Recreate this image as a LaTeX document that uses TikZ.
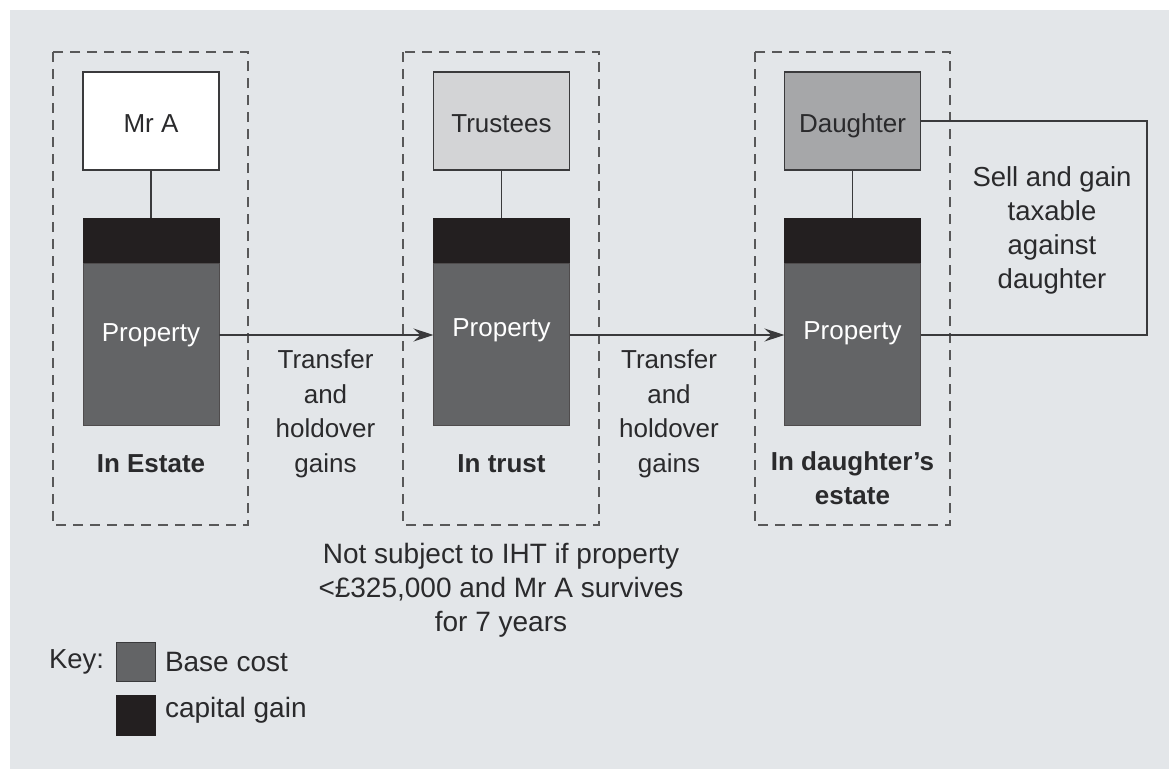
\documentclass[tikz,border=0pt]{standalone}
\usepackage{fontspec}
\setmainfont{Liberation Sans}
\usetikzlibrary{arrows.meta}
\definecolor{panelbg}{HTML}{E3E6E9}
\definecolor{gaincol}{HTML}{231F20}
\definecolor{basecol}{HTML}{636466}
\definecolor{trustcol}{HTML}{D3D4D6}
\definecolor{daucol}{HTML}{A6A7A9}
\definecolor{linecol}{HTML}{3A3A3C}
\definecolor{txtcol}{HTML}{2A2A2C}
\begin{document}
\begin{tikzpicture}[x=1pt,y=-1pt,
  every node/.style={inner sep=0pt,outer sep=0pt,text=txtcol,font=\fontsize{26}{34}\selectfont},
  personbox/.style={draw=linecol,line width=1.6pt,minimum width=136pt,minimum height=98pt,text height=23pt,text depth=0pt},
  gainbox/.style={fill=gaincol,draw=gaincol,line width=1pt,minimum width=136pt,minimum height=45pt},
  basebox/.style={fill=basecol,draw=gaincol!80,line width=1pt,minimum width=136pt,minimum height=162pt},
  proplbl/.style={text=white},
  dashbox/.style={draw=linecol!85,line width=1.5pt,dash pattern=on 10pt off 7pt},
  conn/.style={draw=linecol,line width=1.4pt},
  arr/.style={conn,-{Stealth[length=20pt,width=13pt,inset=7pt]}},
  multi/.style={align=center},
  bigtext/.style={font=\fontsize{27.5}{34}\selectfont},
  stage/.style={align=center,font=\fontsize{26}{34}\selectfont\bfseries}
]
\useasboundingbox (0,0) rectangle (1171,771);
\fill[white] (0,0) rectangle (1171,771);
\fill[panelbg] (10,10) rectangle (1169,769);

% dashed frames
\draw[dashbox] (53,52) rectangle (248,525);
\draw[dashbox] (403,52) rectangle (599,525);
\draw[dashbox] (755,52) rectangle (950,525);

% column 1
\node[personbox,fill=white] (mra) at (151,121) {Mr A};
\node[gainbox] (g1) at (151,240.5) {};
\node[basebox] (b1) at (151,344) {};
\node[proplbl] (p1) at (151,335) {Property};
\node[stage] (s1) at (151,464) {In Estate};

% column 2
\node[personbox,fill=trustcol] (tru) at (501.5,121) {Trustees};
\node[gainbox] (g2) at (501.5,240.5) {};
\node[basebox] (b2) at (501.5,344) {};
\node[proplbl] (p2) at (501.5,330) {Property};
\node[stage] (s2) at (501.5,464) {In trust};

% column 3
\node[personbox,fill=daucol] (dau) at (852.5,121) {Daughter};
\node[gainbox] (g3) at (852.5,240.5) {};
\node[basebox] (b3) at (852.5,344) {};
\node[proplbl] (p3) at (852.5,333) {Property};
\node[stage,anchor=north] (s3) at (852.5,452) {In daughter’s\\estate};

% vertical connectors
\draw[conn] (mra.south) -- (g1.north);
\draw[conn] (tru.south) -- (g2.north);
\draw[conn] (dau.south) -- (g3.north);

% arrows
\coordinate (ay) at (0,335);
\draw[arr] (ay -| b1.east) -- (ay -| b2.west);
\draw[arr] (ay -| b2.east) -- (ay -| b3.west);

% transfer labels
\node[multi,anchor=north,font=\fontsize{26}{34.5}\selectfont] (t1) at (325.5,350) {Transfer\\and\\holdover\\gains};
\node[multi,anchor=north,font=\fontsize{26}{34.5}\selectfont] (t2) at (669,350) {Transfer\\and\\holdover\\gains};

% loop on the right
\coordinate (lx) at (1147,0);
\draw[conn] (dau.east) -- (dau.east -| lx) -- (ay -| lx) -- (ay -| b3.east);
\node[multi,bigtext,anchor=north] (sell) at (1052,167) {Sell and gain\\taxable\\against\\daughter};

% IHT note
\node[multi,anchor=north,font=\fontsize{28}{34}\selectfont] (iht) at (501,543) {Not subject to IHT if property\\<£325,000 and Mr A survives\\for 7 years};

% key
\node[anchor=west,bigtext] (key) at (49,662) {Key:};
\node[fill=basecol,draw=linecol,line width=1pt,minimum width=39pt,minimum height=39pt] (kb) at (136,662) {};
\node[fill=gaincol,draw=gaincol,line width=1pt,minimum width=39pt,minimum height=40pt] (kg) at (136,715.5) {};
\node[anchor=west,font=\fontsize{28}{34}\selectfont] (kbt) at (165,662) {Base cost};
\node[anchor=west,font=\fontsize{28}{34}\selectfont] (kgt) at (165,710) {capital gain};
\end{tikzpicture}
\end{document}
